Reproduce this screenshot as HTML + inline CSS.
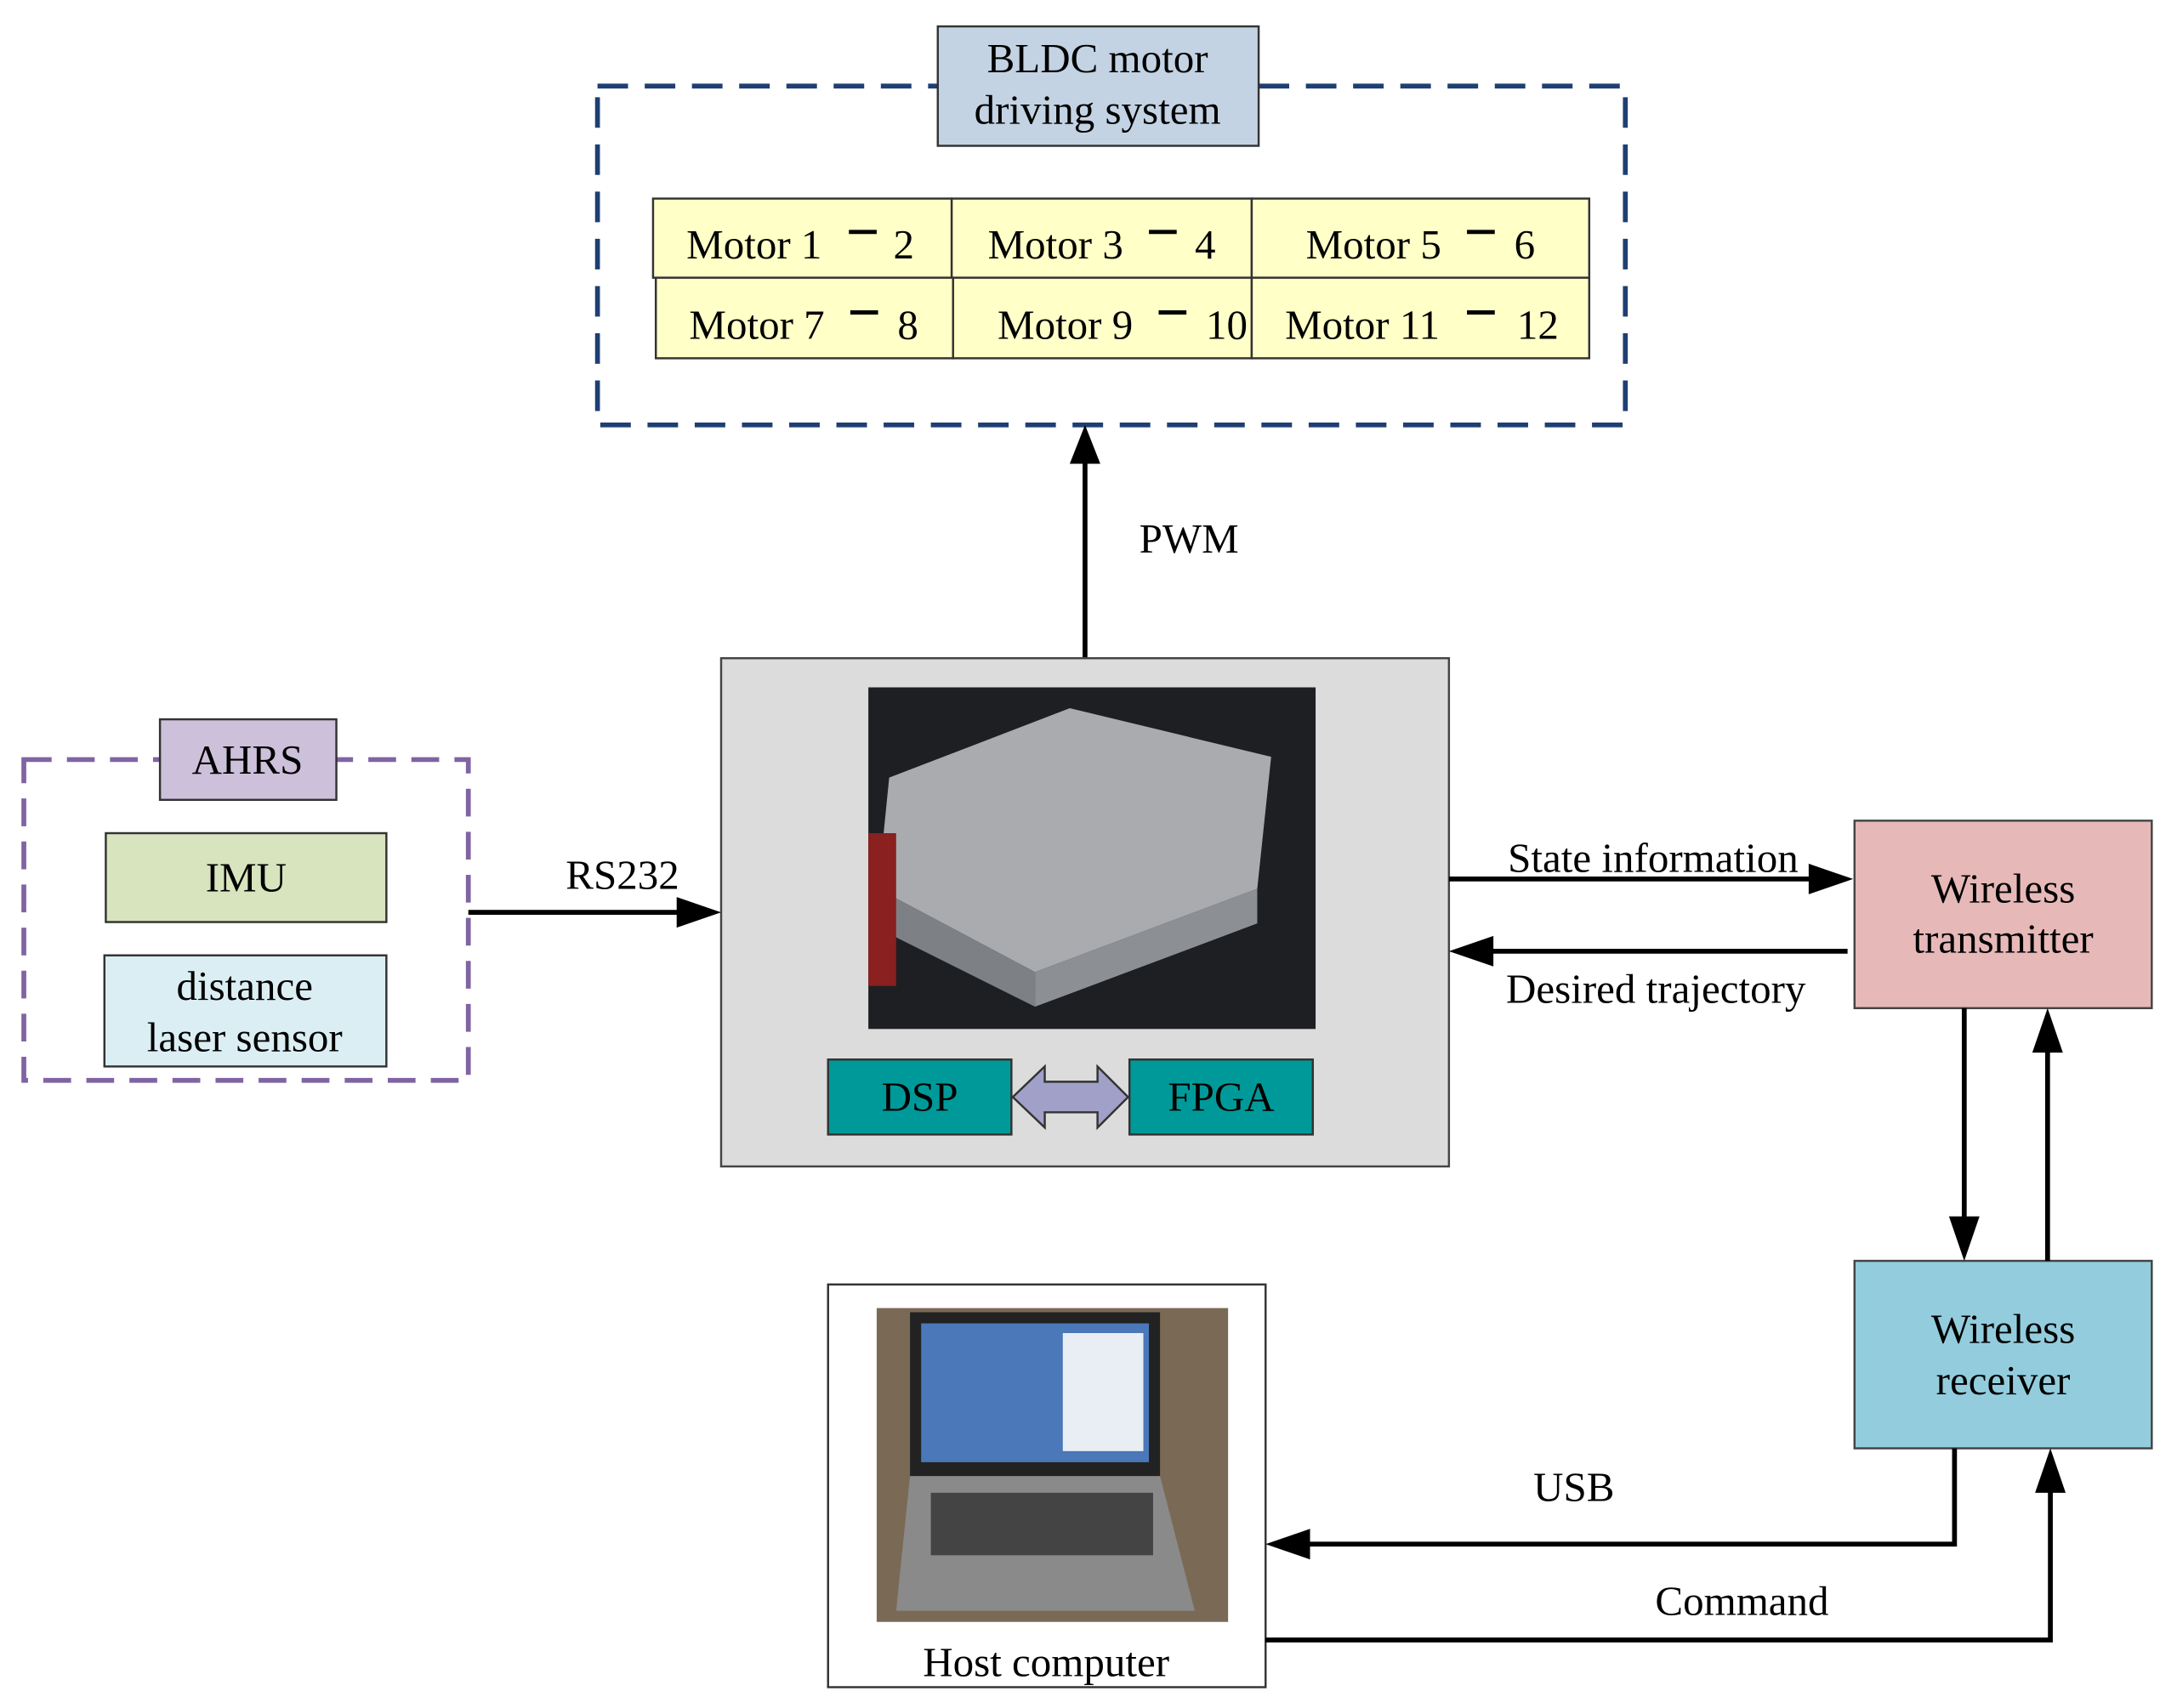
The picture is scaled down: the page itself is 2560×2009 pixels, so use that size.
<!DOCTYPE html>
<html><head><meta charset="utf-8"><style>
html,body{margin:0;padding:0;background:#fff;}
svg{display:block;}
text{font-family:"Liberation Serif",serif;font-size:30px;fill:#000;}
</style></head><body>
<svg width="2560" height="2009" viewBox="0 0 1567 1230" xmlns="http://www.w3.org/2000/svg">
<rect x="430" y="62" width="740" height="244" fill="none" stroke="#1f3f73" stroke-width="3.5" stroke-dasharray="22,12"/>
<rect x="675" y="19" width="231" height="86" fill="#c3d3e3" stroke="#333" stroke-width="1.5"/>
<text x="790" y="52" text-anchor="middle">BLDC motor</text>
<text x="790" y="89" text-anchor="middle">driving system</text>
<g fill="#ffffc8" stroke="#333" stroke-width="1.5">
<rect x="470" y="143" width="215" height="57"/>
<rect x="685" y="143" width="216" height="57"/>
<rect x="901" y="143" width="243" height="57"/>
<rect x="472" y="200" width="214" height="58"/>
<rect x="686" y="200" width="215" height="58"/>
<rect x="901" y="200" width="243" height="58"/>
</g>
<g stroke="#000" stroke-width="3">
<line x1="611" y1="167" x2="631" y2="167"/><line x1="827" y1="167" x2="847" y2="167"/><line x1="1056" y1="167" x2="1076" y2="167"/>
<line x1="612" y1="225" x2="632" y2="225"/><line x1="834" y1="225" x2="854" y2="225"/><line x1="1056" y1="225" x2="1076" y2="225"/>
</g>
<text x="494" y="186">Motor 1</text><text x="643" y="186">2</text>
<text x="711" y="186">Motor 3</text><text x="860" y="186">4</text>
<text x="940" y="186">Motor 5</text><text x="1090" y="186">6</text>
<text x="496" y="244">Motor 7</text><text x="646" y="244">8</text>
<text x="718" y="244">Motor 9</text><text x="868" y="244">10</text>
<text x="925" y="244">Motor 11</text><text x="1092" y="244">12</text>
<line x1="781" y1="475" x2="781" y2="330" stroke="#000" stroke-width="3.5"/>
<polygon points="781,306 770,334 792,334" fill="#000"/>
<text x="820" y="398">PWM</text>
<rect x="519" y="474" width="524" height="366" fill="#dcdcdc" stroke="#444" stroke-width="1.5"/>
<rect x="625" y="495" width="322" height="246" fill="#1e1f22"/>
<polygon points="640,560 770,510 915,545 905,640 745,700 632,640" fill="#a9abae"/>
<polygon points="632,640 745,700 745,725 635,670" fill="#7d8084"/>
<polygon points="745,700 905,640 905,665 745,725" fill="#8c8f93"/>
<rect x="625" y="600" width="20" height="110" fill="#8a2020"/>
<rect x="596" y="763" width="132" height="54" fill="#009999" stroke="#333" stroke-width="1.5"/>
<rect x="813" y="763" width="132" height="54" fill="#009999" stroke="#333" stroke-width="1.5"/>
<text x="662" y="800" text-anchor="middle">DSP</text>
<text x="879" y="800" text-anchor="middle">FPGA</text>
<polygon points="729,790 752,768 752,779 790,779 790,768 812,790 790,812 790,801 752,801 752,812" fill="#a0a0c8" stroke="#333" stroke-width="1.5"/>
<rect x="17" y="547" width="320" height="231" fill="none" stroke="#8064a2" stroke-width="3.5" stroke-dasharray="20,11"/>
<rect x="115" y="518" width="127" height="58" fill="#ccc0da" stroke="#333" stroke-width="1.5"/>
<text x="178" y="557" text-anchor="middle">AHRS</text>
<rect x="76" y="600" width="202" height="64" fill="#d7e4bd" stroke="#333" stroke-width="1.5"/>
<text x="177" y="642" text-anchor="middle">IMU</text>
<rect x="75" y="688" width="203" height="80" fill="#dbeef4" stroke="#333" stroke-width="1.5"/>
<text x="176" y="720" text-anchor="middle">distance</text>
<text x="176" y="757" text-anchor="middle">laser sensor</text>
<line x1="337" y1="657" x2="495" y2="657" stroke="#000" stroke-width="3.5"/>
<polygon points="519,657 487,646 487,668" fill="#000"/>
<text x="448" y="640" text-anchor="middle">RS232</text>
<line x1="1043" y1="633" x2="1305" y2="633" stroke="#000" stroke-width="3.5"/>
<polygon points="1334,633 1302,622 1302,644" fill="#000"/>
<text x="1190" y="628" text-anchor="middle">State information</text>
<line x1="1330" y1="685" x2="1072" y2="685" stroke="#000" stroke-width="3.5"/>
<polygon points="1043,685 1075,674 1075,696" fill="#000"/>
<text x="1192" y="722" text-anchor="middle">Desired trajectory</text>
<rect x="1335" y="591" width="214" height="135" fill="#e6b9b8" stroke="#444" stroke-width="1.5"/>
<text x="1442" y="650" text-anchor="middle">Wireless</text>
<text x="1442" y="686" text-anchor="middle">transmitter</text>
<rect x="1335" y="908" width="214" height="135" fill="#93cddd" stroke="#444" stroke-width="1.5"/>
<text x="1442" y="967" text-anchor="middle">Wireless</text>
<text x="1442" y="1004" text-anchor="middle">receiver</text>
<line x1="1414" y1="726" x2="1414" y2="880" stroke="#000" stroke-width="3.5"/>
<polygon points="1414,908 1403,876 1425,876" fill="#000"/>
<line x1="1474" y1="908" x2="1474" y2="755" stroke="#000" stroke-width="3.5"/>
<polygon points="1474,726 1463,758 1485,758" fill="#000"/>
<rect x="596" y="925" width="315" height="290" fill="#fff" stroke="#333" stroke-width="1.5"/>
<rect x="631" y="942" width="253" height="226" fill="#7a6a55"/>
<rect x="655" y="945" width="180" height="118" fill="#222"/>
<rect x="663" y="953" width="164" height="100" fill="#4a78b8"/>
<rect x="765" y="960" width="58" height="85" fill="#e8eef4"/>
<polygon points="645,1160 655,1063 835,1063 860,1160" fill="#8a8a8a"/>
<rect x="670" y="1075" width="160" height="45" fill="#444"/>
<text x="753" y="1207" text-anchor="middle">Host computer</text>
<polyline points="1407,1043 1407,1112 940,1112" fill="none" stroke="#000" stroke-width="3.5"/>
<polygon points="911,1112 943,1101 943,1123" fill="#000"/>
<text x="1133" y="1081" text-anchor="middle">USB</text>
<polyline points="911,1181 1476,1181 1476,1072" fill="none" stroke="#000" stroke-width="3.5"/>
<polygon points="1476,1043 1465,1075 1487,1075" fill="#000"/>
<text x="1254" y="1163" text-anchor="middle">Command</text>
</svg>
</body></html>
